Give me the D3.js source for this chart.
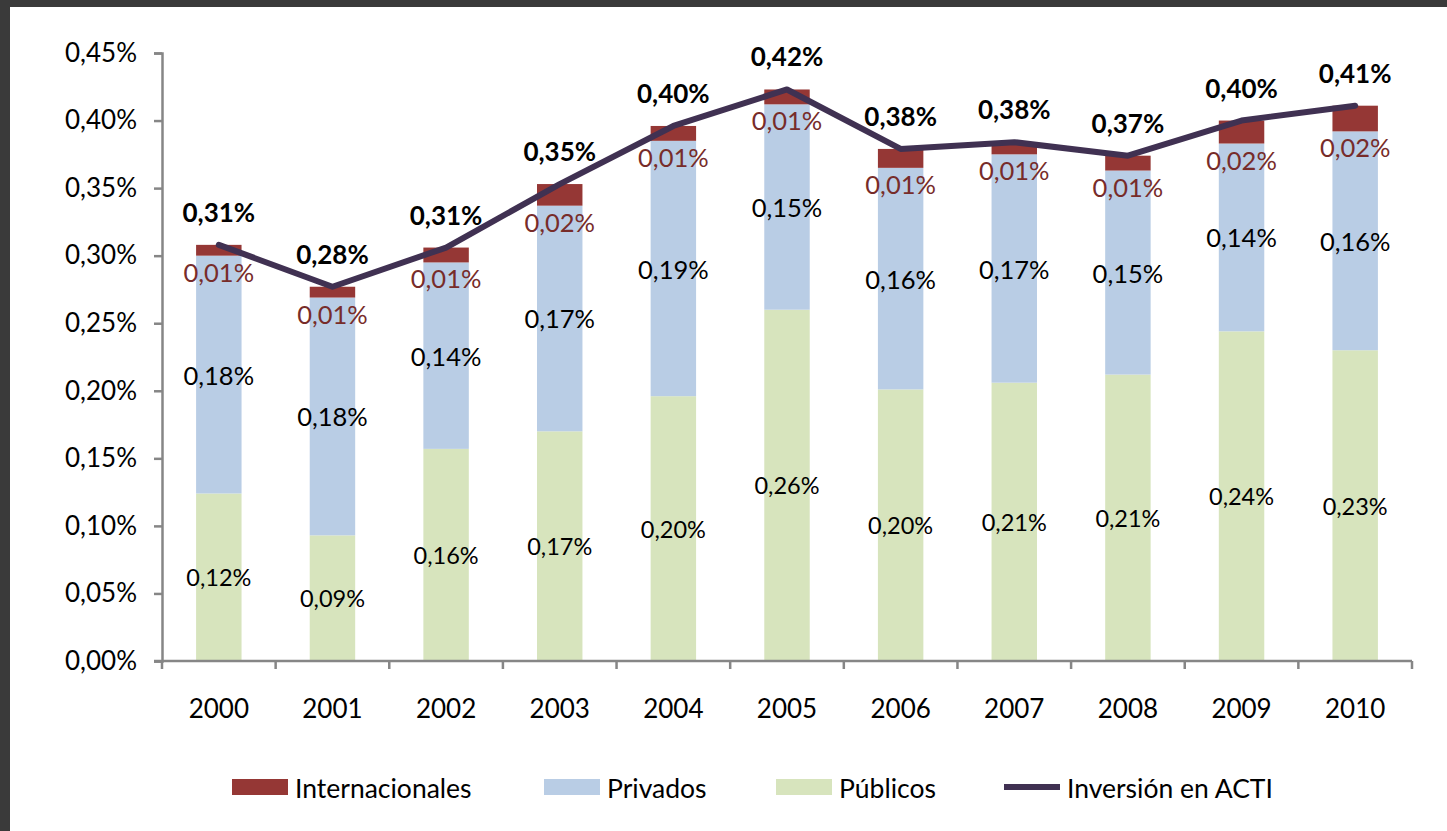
<!DOCTYPE html>
<html>
<head>
<meta charset="utf-8">
<script src="https://cdn.jsdelivr.net/npm/d3@7"></script>
<style>
  html, body { margin: 0; padding: 0; background: #ffffff; }
  svg { display: block; font-family: Lato, "Open Sans", sans-serif; }
</style>
</head>
<body>
<svg id="chart" width="1447" height="831"></svg>
<script>
// ---- Data (values in %) ----
const years = ["2000","2001","2002","2003","2004","2005","2006","2007","2008","2009","2010"];
const publicos        = [0.124, 0.093, 0.157, 0.170, 0.196, 0.260, 0.201, 0.206, 0.212, 0.244, 0.230];
const privados        = [0.176, 0.176, 0.138, 0.167, 0.189, 0.152, 0.164, 0.169, 0.151, 0.139, 0.162];
const internacionales = [0.008, 0.008, 0.011, 0.016, 0.011, 0.011, 0.014, 0.009, 0.011, 0.017, 0.019];
const inversionACTI   = [0.308, 0.277, 0.306, 0.353, 0.396, 0.423, 0.379, 0.384, 0.374, 0.400, 0.411];
const yTicks = [0, 0.05, 0.10, 0.15, 0.20, 0.25, 0.30, 0.35, 0.40, 0.45];
const seriesNames = ["Internacionales", "Privados", "Públicos", "Inversión en ACTI"];

const colors = { pub: "#d7e4bd", priv: "#b9cde5", intl: "#953735", line: "#403152", intlLabel: "#772c2a", axis: "#868686" };
const fmt = v => v.toFixed(2).replace(".", ",") + "%";

const svg = d3.select("#chart");

// frame (dark border of screenshot)
svg.append("rect").attr("x", 0).attr("y", 0).attr("width", 1447).attr("height", 7).attr("fill", "#3a3a3a");
svg.append("rect").attr("x", 0).attr("y", 0).attr("width", 10).attr("height", 831).attr("fill", "#3a3a3a");

const x = d3.scaleBand().domain(years).range([162, 1412]).paddingInner(0.6).paddingOuter(0.3);
const y = d3.scaleLinear().domain([0, 0.45]).range([661, 53]);
const bw = x.bandwidth();
const step = x.step();

// stacked data
const rows = years.map((yr, i) => ({ year: yr, pub: publicos[i], priv: privados[i], intl: internacionales[i] }));
const stack = d3.stack().keys(["pub", "priv", "intl"])(rows);
const keyColor = { pub: colors.pub, priv: colors.priv, intl: colors.intl };

const gBars = svg.append("g");
stack.forEach(layer => {
  gBars.selectAll(null).data(layer).enter().append("rect")
    .attr("x", d => x(d.data.year))
    .attr("y", d => y(d[1]))
    .attr("width", bw)
    .attr("height", d => y(d[0]) - y(d[1]))
    .attr("fill", keyColor[layer.key]);
});

// Y axis
const yAxis = d3.axisLeft(y).tickValues(yTicks).tickFormat(fmt).tickSize(8).tickPadding(17);
const gy = svg.append("g").attr("transform", "translate(162,0)").call(yAxis);
gy.select(".domain").attr("stroke", colors.axis).attr("stroke-width", 2.5);
gy.selectAll(".tick line").attr("stroke", colors.axis).attr("stroke-width", 2.5);
gy.selectAll(".tick text").attr("fill", "#000").style("font-size", "26px").style("font-family", "Lato, sans-serif");

// X axis
const gx = svg.append("g").attr("transform", "translate(0,661)");
gx.append("line").attr("x1", 154).attr("x2", 1412).attr("y1", 0).attr("y2", 0)
  .attr("stroke", colors.axis).attr("stroke-width", 2.5);
const bounds = years.map(d => x(d) - (step - bw) / 2).concat([x(years[years.length - 1]) + bw + (step - bw) / 2]);
gx.selectAll(".xt").data(bounds).enter().append("line")
  .attr("x1", d => d).attr("x2", d => d).attr("y1", 0).attr("y2", 8)
  .attr("stroke", colors.axis).attr("stroke-width", 2.5);
gx.selectAll(".xl").data(years).enter().append("text")
  .attr("x", d => x(d) + bw / 2).attr("y", 47)
  .attr("text-anchor", "middle").attr("dominant-baseline", "central")
  .style("font-size", "26px").attr("fill", "#000").text(d => d);

// Segment labels
const gLab = svg.append("g");
gLab.selectAll(null).data(rows).enter().append("text")
  .attr("x", d => x(d.year) + bw / 2)
  .attr("y", d => (y(0) + y(d.pub)) / 2)
  .attr("text-anchor", "middle").attr("dominant-baseline", "central")
  .style("font-size", "23.5px").attr("fill", "#000").text(d => fmt(d.pub));
gLab.selectAll(null).data(rows).enter().append("text")
  .attr("x", d => x(d.year) + bw / 2)
  .attr("y", d => (y(d.pub) + y(d.pub + d.priv)) / 2)
  .attr("text-anchor", "middle").attr("dominant-baseline", "central")
  .style("font-size", "25.5px").attr("fill", "#000").text(d => fmt(d.priv));
gLab.selectAll(null).data(rows).enter().append("text")
  .attr("x", d => x(d.year) + bw / 2)
  .attr("y", d => y(d.pub + d.priv) + 16)
  .attr("text-anchor", "middle").attr("dominant-baseline", "central")
  .style("font-size", "25.5px").attr("fill", colors.intlLabel).text(d => fmt(d.intl));

// Line
const lineData = years.map((yr, i) => ({ year: yr, v: inversionACTI[i] }));
const line = d3.line().x(d => x(d.year) + bw / 2).y(d => y(d.v));
svg.append("path").datum(lineData).attr("d", line)
  .attr("fill", "none").attr("stroke", colors.line).attr("stroke-width", 6)
  .attr("stroke-linejoin", "round").attr("stroke-linecap", "round");
svg.append("g").selectAll(null).data(lineData).enter().append("text")
  .attr("x", d => x(d.year) + bw / 2)
  .attr("y", d => y(d.v) - 33)
  .attr("text-anchor", "middle").attr("dominant-baseline", "central")
  .style("font-size", "26px").style("font-weight", "bold").attr("fill", "#000").text(d => fmt(d.v));

// Legend
const legend = [
  { name: seriesNames[0], type: "rect", color: colors.intl, x: 232 },
  { name: seriesNames[1], type: "rect", color: colors.priv, x: 544 },
  { name: seriesNames[2], type: "rect", color: colors.pub, x: 776 },
  { name: seriesNames[3], type: "line", color: colors.line, x: 1004 }
];
const gLeg = svg.append("g");
legend.forEach(l => {
  if (l.type === "rect") {
    gLeg.append("rect").attr("x", l.x).attr("y", 779).attr("width", 56).attr("height", 16).attr("fill", l.color);
  } else {
    gLeg.append("line").attr("x1", l.x).attr("x2", l.x + 56).attr("y1", 787).attr("y2", 787)
      .attr("stroke", l.color).attr("stroke-width", 6);
  }
  gLeg.append("text").attr("x", l.x + 63).attr("y", 788).attr("dominant-baseline", "central")
    .style("font-size", "26.5px").attr("fill", "#000").text(l.name);
});
</script>
</body>
</html>
